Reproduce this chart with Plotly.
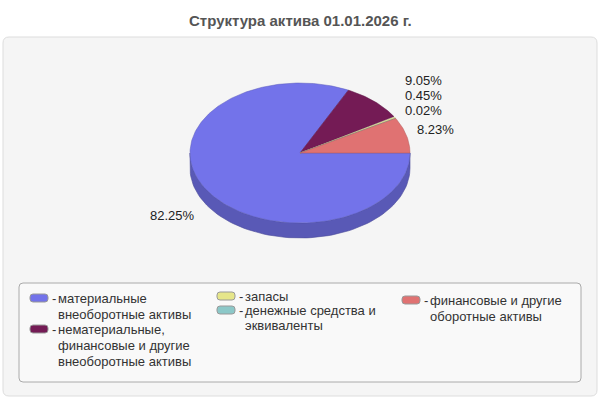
import numpy as np
import plotly.graph_objects as go

# --- данные ---
CATEGORIES = [
    ["материальные", "внеоборотные активы"],
    ["нематериальные,", "финансовые и другие", "внеоборотные активы"],
    ["запасы"],
    ["денежные средства и", "эквиваленты"],
    ["финансовые и другие", "оборотные активы"],
]
SHARES = [82.25, 9.05, 0.45, 0.02, 8.23]
LABELS = ["82.25%", "9.05%", "0.45%", "0.02%", "8.23%"]
COLORS = ["#7373ea", "#741b55", "#e6e68a", "#8cc8c8", "#e07272"]
TITLE = "Структура актива 01.01.2026 г."

FONT = "Liberation Sans, Arial, sans-serif"

# геометрия псевдо-3D круга (в пикселях)
CX, CY, RX, RY, DEPTH = 300, 153, 110, 70, 15


def darker(hex_color, k=0.78):
    h = hex_color.lstrip("#")
    r, g, b = (int(h[i:i + 2], 16) for i in (0, 2, 4))
    return "rgb(%d,%d,%d)" % (r * k, g * k, b * k)


def arc(a0, a1, dy=0, n=80):
    t = np.radians(np.linspace(a0, a1, n))
    return CX + RX * np.cos(t), CY - RY * np.sin(t) + dy


def rounded_rect(x0, y0, x1, y1, r):
    return (f"M{x0 + r},{y0} L{x1 - r},{y0} Q{x1},{y0} {x1},{y0 + r} "
            f"L{x1},{y1 - r} Q{x1},{y1} {x1 - r},{y1} L{x0 + r},{y1} "
            f"Q{x0},{y1} {x0},{y1 - r} L{x0},{y0 + r} Q{x0},{y0} {x0 + r},{y0} Z")


fig = go.Figure()

# углы секторов: от 3 часов по часовой стрелке
total = sum(SHARES)
bounds = np.concatenate([[0], np.cumsum(SHARES)]) / total * -360.0

# боковая стенка (видна только нижняя половина)
for i, c in enumerate(COLORS):
    a0, a1 = bounds[i], bounds[i + 1]
    lo, hi = max(a1, -180.0), min(a0, 0.0)
    if hi <= lo:
        continue
    xt, yt = arc(hi, lo)
    xb, yb = arc(lo, hi, dy=DEPTH)
    fig.add_trace(go.Scatter(
        x=np.concatenate([xt, xb, xt[:1]]), y=np.concatenate([yt, yb, yt[:1]]),
        fill="toself", fillcolor=darker(c), mode="lines",
        line=dict(color=darker(c, 0.65), width=0.6),
        hoverinfo="skip", showlegend=False))

# верхняя грань
for i, c in enumerate(COLORS):
    a0, a1 = bounds[i], bounds[i + 1]
    xs, ys = arc(a0, a1, n=max(4, int(abs(a1 - a0))))
    fig.add_trace(go.Scatter(
        x=np.concatenate([[CX], xs, [CX]]), y=np.concatenate([[CY], ys, [CY]]),
        fill="toself", fillcolor=c, mode="lines",
        line=dict(color=darker(c, 0.8), width=0.5),
        name=" ".join(CATEGORIES[i]), showlegend=False))

# подписи процентов
label_pos = [(197, 215, "right"), (403, 80, "left"), (403, 95, "left"),
             (403, 110, "left"), (415, 129, "left")]
for (x, y, anchor), txt in zip(label_pos, LABELS):
    fig.add_annotation(x=x, y=y, text=txt, showarrow=False, xanchor=anchor,
                       yanchor="middle", font=dict(size=13, color="#222222"))

# фон панели и рамка легенды
shapes = [
    dict(type="path", path=rounded_rect(3, 37, 597, 396, 6), xref="x", yref="y",
         fillcolor="#f5f5f5", line=dict(color="#dddddd", width=1), layer="below"),
    dict(type="path", path=rounded_rect(19, 283, 581, 382, 4), xref="x", yref="y",
         fillcolor="#f9f9f9", line=dict(color="#aaaaaa", width=1), layer="below"),
]

# легенда: три колонки (x значка, y первой строки, шаг строк)
legend_slots = [(30, 298, 16), (30, 329, 16), (217, 296, 15), (217, 310, 15),
                (402, 300, 16)]
for (sx, sy, step), c, lines in zip(legend_slots, COLORS, CATEGORIES):
    shapes.append(dict(type="path", path=rounded_rect(sx, sy - 4, sx + 18, sy + 4, 3),
                       xref="x", yref="y", fillcolor=c,
                       line=dict(color="#999999", width=1)))
    fig.add_annotation(x=sx + 21, y=sy, text="-", showarrow=False, xanchor="left",
                       yanchor="middle", borderpad=0,
                       font=dict(size=13, color="#333333"))
    for k, line in enumerate(lines):
        fig.add_annotation(x=sx + 27, y=sy + k * step, text=line, showarrow=False,
                           xanchor="left", yanchor="middle", borderpad=0,
                           font=dict(size=13, color="#333333"))

fig.add_annotation(x=300, y=20, text="<b>" + TITLE + "</b>", showarrow=False,
                   xanchor="center", yanchor="middle",
                   font=dict(size=15, color="#555555"))

fig.update_layout(
    width=600, height=400, margin=dict(l=0, r=0, t=0, b=0),
    paper_bgcolor="white", plot_bgcolor="white",
    font=dict(family=FONT, size=13),
    shapes=shapes, showlegend=False,
    xaxis=dict(range=[0, 600], visible=False, fixedrange=True),
    yaxis=dict(range=[400, 0], visible=False, fixedrange=True),
)

# убираем отступ body, чтобы график лёг ровно в окно 600x400
fig.write_html("out.html", config={"displayModeBar": False},
               post_script="document.body.style.margin='0';")
